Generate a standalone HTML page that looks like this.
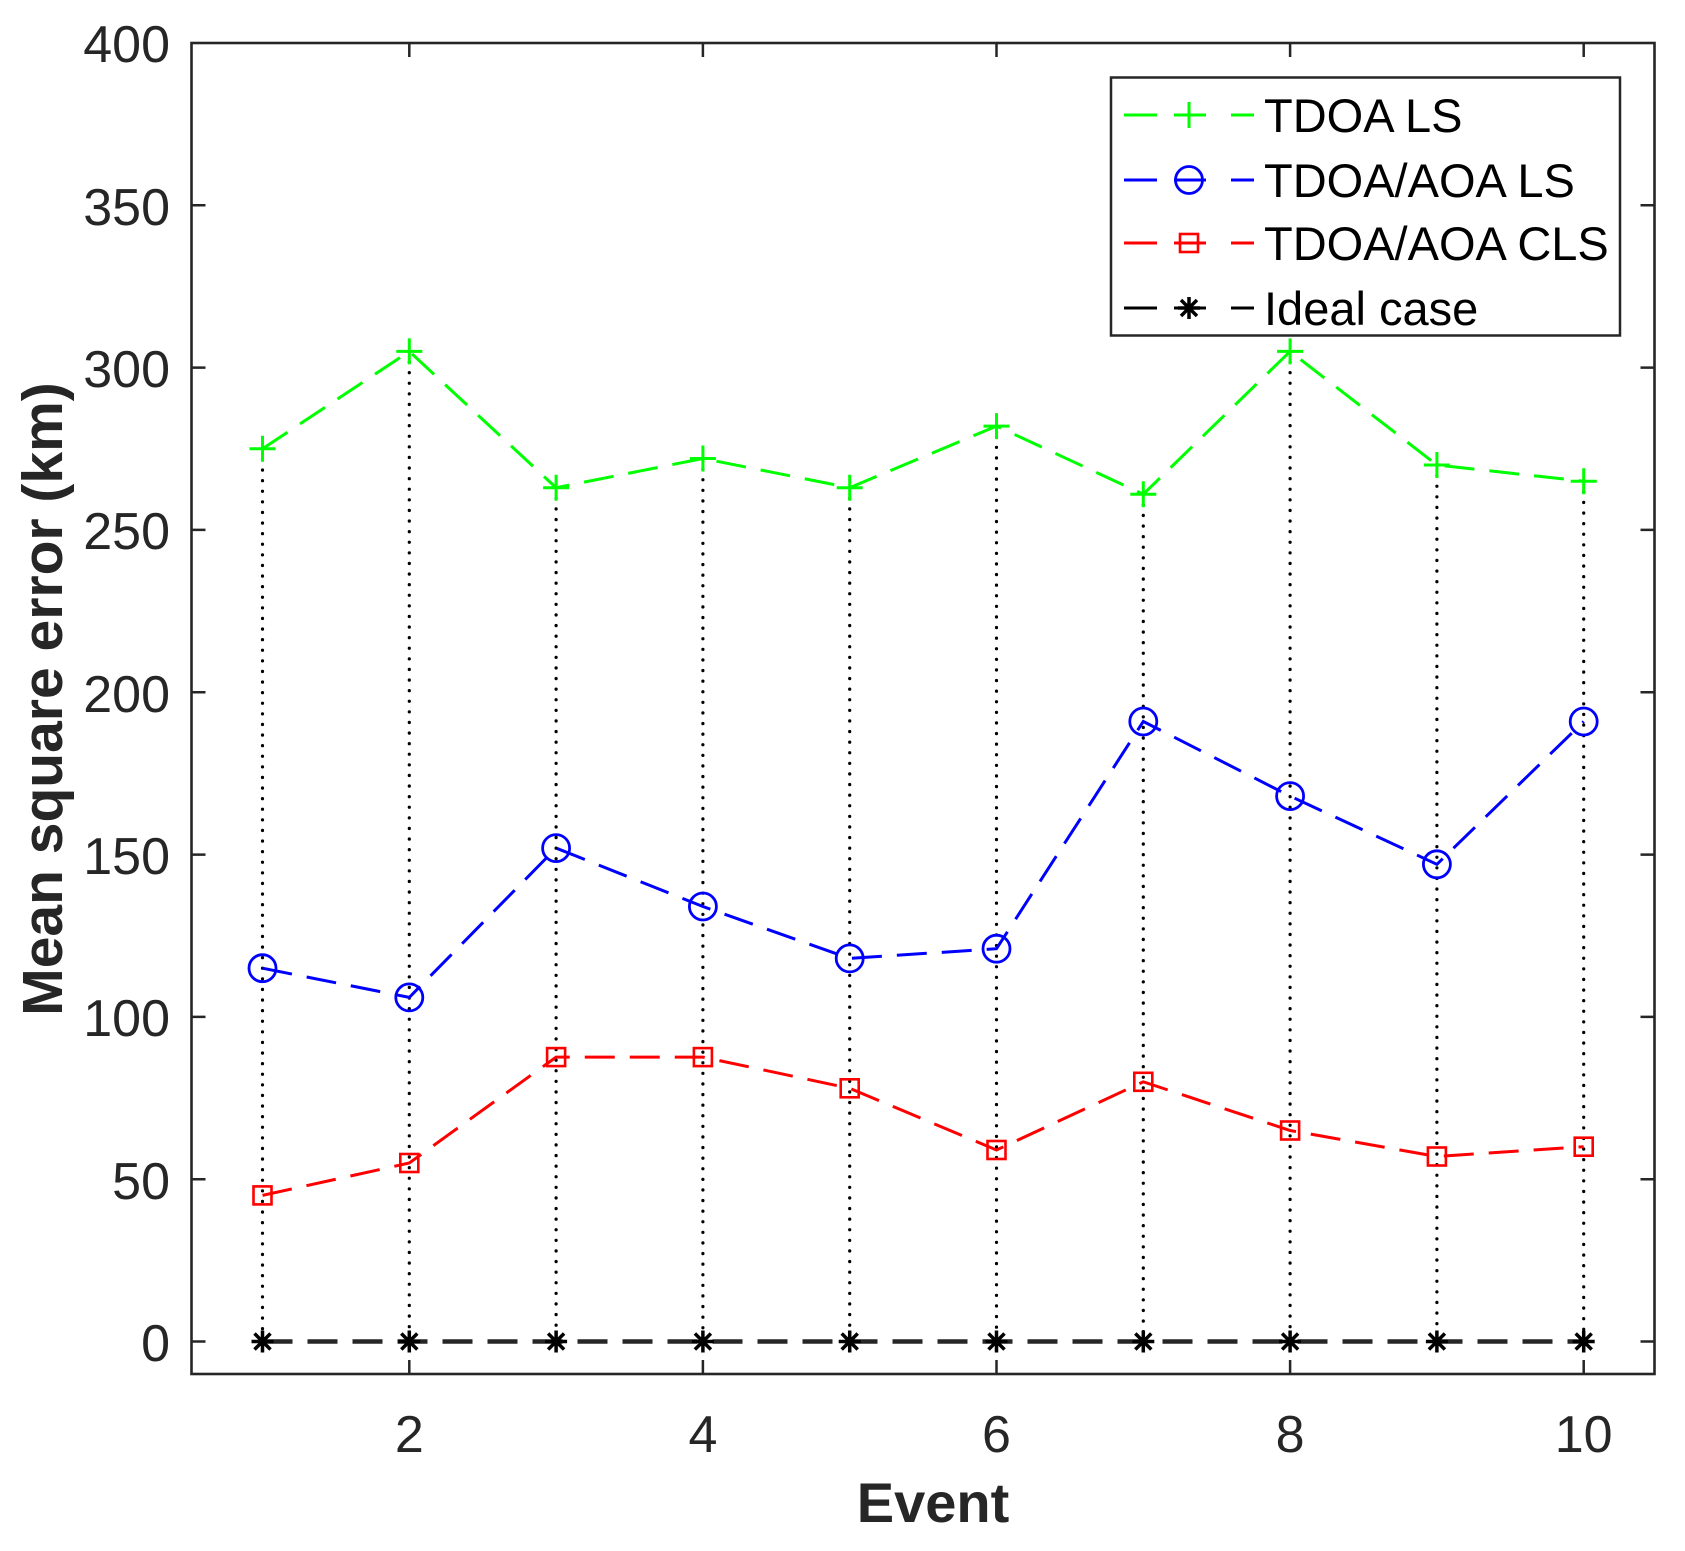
<!DOCTYPE html>
<html><head><meta charset="utf-8"><style>
html,body{margin:0;padding:0;background:#fff}
svg{display:block}
text{font-family:"Liberation Sans",Arial,sans-serif;fill:#262626}
</style></head><body>
<svg width="1685" height="1551" viewBox="0 0 1685 1551" xmlns="http://www.w3.org/2000/svg" xmlns:xlink="http://www.w3.org/1999/xlink">
<defs>
<g id="plus"><path d="M-13 0H13M0 -13V13" stroke="#00ff00" stroke-width="3" fill="none"/></g>
<g id="circ"><circle r="13.5" stroke="#0000ff" stroke-width="2.8" fill="none"/></g>
<g id="sq"><rect x="-9" y="-9" width="18" height="18" stroke="#ff0000" stroke-width="2.6" fill="none"/></g>
<g id="star"><path d="M-11 0H11M0 -11V11M-8 -8L8 8M-8 8L8 -8" stroke="#000" stroke-width="3.5" fill="none"/></g>
</defs>

<g stroke="#000" stroke-width="3.2" stroke-dasharray="0.1 10.5" stroke-linecap="round">
<line x1="262.5" y1="448.8" x2="262.5" y2="1341.5"/>
<line x1="409.3" y1="351.4" x2="409.3" y2="1341.5"/>
<line x1="556.1" y1="487.7" x2="556.1" y2="1341.5"/>
<line x1="702.9" y1="458.5" x2="702.9" y2="1341.5"/>
<line x1="849.7" y1="487.7" x2="849.7" y2="1341.5"/>
<line x1="996.5" y1="426.1" x2="996.5" y2="1341.5"/>
<line x1="1143.3" y1="494.2" x2="1143.3" y2="1341.5"/>
<line x1="1290.1" y1="351.4" x2="1290.1" y2="1341.5"/>
<line x1="1436.9" y1="465" x2="1436.9" y2="1341.5"/>
<line x1="1583.7" y1="481.2" x2="1583.7" y2="1341.5"/>
</g>

<g fill="none" stroke-width="3" stroke-dasharray="30 15">
<polyline stroke="#00ff00" points="262.5,448.8 409.3,351.4 556.1,487.7 702.9,458.5 849.7,487.7 996.5,426.1 1143.3,494.2 1290.1,351.4 1436.9,465 1583.7,481.2"/>
<polyline stroke="#0000ff" points="262.5,968.2 409.3,997.4 556.1,848.1 702.9,906.5 849.7,958.4 996.5,948.7 1143.3,721.5 1290.1,796.1 1436.9,864.3 1583.7,721.5"/>
<polyline stroke="#ff0000" points="262.5,1195.4 409.3,1163 556.1,1057.1 702.9,1057.1 849.7,1088.3 996.5,1150 1143.3,1081.8 1290.1,1130.5 1436.9,1156.5 1583.7,1146.7"/>
<polyline stroke="#262626" stroke-width="4.5" points="262.5,1341.5 1583.7,1341.5"/>
</g>

<use xlink:href="#plus" x="262.5" y="448.8"/><use xlink:href="#plus" x="409.3" y="351.4"/><use xlink:href="#plus" x="556.1" y="487.7"/><use xlink:href="#plus" x="702.9" y="458.5"/><use xlink:href="#plus" x="849.7" y="487.7"/><use xlink:href="#plus" x="996.5" y="426.1"/><use xlink:href="#plus" x="1143.3" y="494.2"/><use xlink:href="#plus" x="1290.1" y="351.4"/><use xlink:href="#plus" x="1436.9" y="465"/><use xlink:href="#plus" x="1583.7" y="481.2"/>
<use xlink:href="#circ" x="262.5" y="968.2"/><use xlink:href="#circ" x="409.3" y="997.4"/><use xlink:href="#circ" x="556.1" y="848.1"/><use xlink:href="#circ" x="702.9" y="906.5"/><use xlink:href="#circ" x="849.7" y="958.4"/><use xlink:href="#circ" x="996.5" y="948.7"/><use xlink:href="#circ" x="1143.3" y="721.5"/><use xlink:href="#circ" x="1290.1" y="796.1"/><use xlink:href="#circ" x="1436.9" y="864.3"/><use xlink:href="#circ" x="1583.7" y="721.5"/>
<use xlink:href="#sq" x="262.5" y="1195.4"/><use xlink:href="#sq" x="409.3" y="1163"/><use xlink:href="#sq" x="556.1" y="1057.1"/><use xlink:href="#sq" x="702.9" y="1057.1"/><use xlink:href="#sq" x="849.7" y="1088.3"/><use xlink:href="#sq" x="996.5" y="1150"/><use xlink:href="#sq" x="1143.3" y="1081.8"/><use xlink:href="#sq" x="1290.1" y="1130.5"/><use xlink:href="#sq" x="1436.9" y="1156.5"/><use xlink:href="#sq" x="1583.7" y="1146.7"/>
<use xlink:href="#star" x="262.5" y="1341.5"/><use xlink:href="#star" x="409.3" y="1341.5"/><use xlink:href="#star" x="556.1" y="1341.5"/><use xlink:href="#star" x="702.9" y="1341.5"/><use xlink:href="#star" x="849.7" y="1341.5"/><use xlink:href="#star" x="996.5" y="1341.5"/><use xlink:href="#star" x="1143.3" y="1341.5"/><use xlink:href="#star" x="1290.1" y="1341.5"/><use xlink:href="#star" x="1436.9" y="1341.5"/><use xlink:href="#star" x="1583.7" y="1341.5"/>

<rect x="191.5" y="43" width="1463" height="1331" fill="none" stroke="#262626" stroke-width="2.6"/>
<g stroke="#262626" stroke-width="2.5">
<path d="M191.5 1341.5h14M191.5 1179.2h14M191.5 1016.9h14M191.5 854.6h14M191.5 692.3h14M191.5 529.9h14M191.5 367.6h14M191.5 205.3h14"/>
<path d="M1654.5 1341.5h-14M1654.5 1179.2h-14M1654.5 1016.9h-14M1654.5 854.6h-14M1654.5 692.3h-14M1654.5 529.9h-14M1654.5 367.6h-14M1654.5 205.3h-14"/>
<path d="M409.3 1374v-14M702.9 1374v-14M996.5 1374v-14M1290.1 1374v-14M1583.7 1374v-14"/>
<path d="M409.3 43v14M702.9 43v14M996.5 43v14M1290.1 43v14M1583.7 43v14"/>
</g>
<g font-size="52" text-anchor="end">
<text x="170" y="1361">0</text>
<text x="170" y="1199">50</text>
<text x="170" y="1036">100</text>
<text x="170" y="874">150</text>
<text x="170" y="712">200</text>
<text x="170" y="549">250</text>
<text x="170" y="387">300</text>
<text x="170" y="225">350</text>
<text x="170" y="62">400</text>
</g>
<g font-size="52" text-anchor="middle">
<text x="409.3" y="1452">2</text>
<text x="702.9" y="1452">4</text>
<text x="996.5" y="1452">6</text>
<text x="1290.1" y="1452">8</text>
<text x="1583.7" y="1452">10</text>
</g>
<text x="933" y="1522" font-size="56" font-weight="bold" text-anchor="middle">Event</text>
<text transform="translate(62,699) rotate(-90)" font-size="57" font-weight="bold" text-anchor="middle">Mean square error (km)</text>

<rect x="1111" y="77.5" width="509" height="258" fill="#fff" stroke="#262626" stroke-width="2.5"/>
<g stroke-width="3">
<path d="M1124 115h33M1174 115h32M1231 115h23" stroke="#00ff00"/>
<path d="M1124 180h33M1174 180h32M1231 180h23" stroke="#0000ff"/>
<path d="M1124 243h33M1174 243h32M1231 243h23" stroke="#ff0000"/>
<path d="M1124 308h33M1174 308h32M1231 308h23" stroke="#000"/>
</g>
<use xlink:href="#plus" x="1189" y="115"/>
<use xlink:href="#circ" x="1189" y="180"/>
<use xlink:href="#sq" x="1189" y="243"/>
<use xlink:href="#star" x="1189" y="308"/>
<g font-size="47">
<text x="1264" y="132" style="fill:#000">TDOA LS</text>
<text x="1264" y="197" style="fill:#000">TDOA/AOA LS</text>
<text x="1264" y="260" style="fill:#000">TDOA/AOA CLS</text>
<text x="1264" y="325" style="fill:#000">Ideal case</text>
</g>
</svg>
</body></html>
